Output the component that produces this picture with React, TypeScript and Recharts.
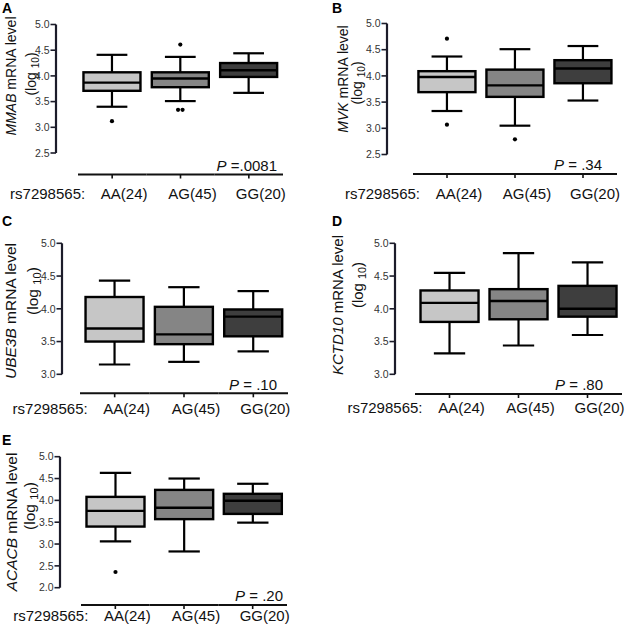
import React from "react";
import { ComposedChart, Bar, XAxis, YAxis } from "recharts";

// ---------- data ----------
const genotypes = ["AA(24)", "AG(45)", "GG(20)"];
const snpLabel = "rs7298565:";

const mmabLow = [3.4, 3.51, 3.67];
const mmabQ1 = [3.71, 3.78, 3.98];
const mmabMedian = [3.87, 3.95, 4.11];
const mmabQ3 = [4.07, 4.07, 4.25];
const mmabHigh = [4.41, 4.37, 4.44];
const mmabOutliers = [[3.12], [4.61, 3.34, 3.34], []];

const mvkLow = [3.33, 3.05, 3.53];
const mvkQ1 = [3.69, 3.6, 3.86];
const mvkMedian = [3.98, 3.82, 4.14];
const mvkQ3 = [4.09, 4.12, 4.3];
const mvkHigh = [4.37, 4.51, 4.57];
const mvkOutliers = [[4.71, 3.07], [2.79], []];

const ube3bLow = [3.15, 3.19, 3.35];
const ube3bQ1 = [3.5, 3.46, 3.58];
const ube3bMedian = [3.7, 3.61, 3.88];
const ube3bQ3 = [4.18, 4.03, 3.99];
const ube3bHigh = [4.43, 4.33, 4.27];
const ube3bOutliers = [[], [], []];

const kctd10Low = [3.32, 3.44, 3.6];
const kctd10Q1 = [3.8, 3.84, 3.88];
const kctd10Median = [4.09, 4.12, 4.0];
const kctd10Q3 = [4.28, 4.3, 4.35];
const kctd10High = [4.55, 4.85, 4.71];
const kctd10Outliers = [[], [], []];

const acacbLow = [3.06, 2.83, 3.49];
const acacbQ1 = [3.4, 3.57, 3.69];
const acacbMedian = [3.76, 3.83, 3.99];
const acacbQ3 = [4.08, 4.24, 4.15];
const acacbHigh = [4.63, 4.5, 4.38];
const acacbOutliers = [[2.36], [], []];

const ticksAB = [2.5, 3.0, 3.5, 4.0, 4.5, 5.0];
const ticksCD = [3.0, 3.5, 4.0, 4.5, 5.0];
const ticksE = [2.0, 2.5, 3.0, 3.5, 4.0, 4.5, 5.0];

const geneA = "MMAB";
const geneB = "MVK";
const geneC = "UBE3B";
const geneD = "KCTD10";
const geneE = "ACACB";

const pA = "=.0081";
const pB = "= .34";
const pC = "= .10";
const pD = "= .80";
const pE = "= .20";

// ---------- styles ----------
const FONT = "'Liberation Sans', Arial, Helvetica, sans-serif";
const INK = "#111";
const AXIS_INK = "#1c1c2a";
const boxColors = ["#c6c6c6", "#858585", "#3e3e3e"];

function buildRows(lo, q1, med, q3, hi, out) {
  return genotypes.map((g, i) => ({
    cat: g,
    lo: lo[i],
    q1: q1[i],
    med: med[i],
    q3: q3[i],
    hi: hi[i],
    out: out[i],
  }));
}

function BoxShape(props) {
  const { x, y, width, height, payload, index } = props;
  if (payload == null || width == null) return null;
  const top = Math.min(y, y + height);
  const h = Math.abs(height);
  const span = payload.hi - payload.lo;
  const py = (v) => top + ((payload.hi - v) / span) * h;
  const cx = x + width / 2;
  const cap = width * 0.27;
  const yq1 = py(payload.q1);
  const yq3 = py(payload.q3);
  const seen = {};
  return (
    <g>
      <line x1={cx} x2={cx} y1={py(payload.hi)} y2={yq3} stroke="#000" strokeWidth={2.2} />
      <line x1={cx} x2={cx} y1={yq1} y2={py(payload.lo)} stroke="#000" strokeWidth={2.2} />
      <line x1={cx - cap} x2={cx + cap} y1={py(payload.hi)} y2={py(payload.hi)} stroke="#000" strokeWidth={2.2} />
      <line x1={cx - cap} x2={cx + cap} y1={py(payload.lo)} y2={py(payload.lo)} stroke="#000" strokeWidth={2.2} />
      <rect x={x} y={yq3} width={width} height={yq1 - yq3} fill={boxColors[index % 3]} stroke="#000" strokeWidth={2.4} />
      <line x1={x} x2={x + width} y1={py(payload.med)} y2={py(payload.med)} stroke="#000" strokeWidth={2.4} />
      {payload.out.map((v, k) => {
        const key = String(v);
        const n = seen[key] || 0;
        seen[key] = n + 1;
        const dup = payload.out.filter((w) => w === v).length;
        const dx = dup > 1 ? (n - (dup - 1) / 2) * 4.5 : 0;
        return <circle key={k} cx={cx + dx} cy={py(v)} r={2.1} fill="#000" />;
      })}
    </g>
  );
}

function makeXTick(cfg) {
  return function XTick(props) {
    const { x, y, payload, index } = props;
    const half = payload && payload.offset ? payload.offset : 34;
    const ly = y + cfg.lineGap;
    return (
      <g>
        <line x1={x - half} x2={x + half} y1={ly} y2={ly} stroke={INK} strokeWidth={2} />
        <line x1={x} x2={x} y1={ly} y2={ly + 4} stroke={INK} strokeWidth={1.6} />
        <text x={x + 12} y={ly + cfg.labelGap} textAnchor="middle" fontSize={15} fontFamily={FONT} fill="#111">
          {payload.value}
        </text>
        {index === 0 && (
          <text x={x - 27} y={ly + cfg.labelGap} textAnchor="end" fontSize={15} fontFamily={FONT} fill="#111">
            {snpLabel}
          </text>
        )}
      </g>
    );
  };
}

function Panel({ cfg, rows, ticks, gene, pText }) {
  const yLabel = () => (
    <g>
      <text x={cfg.letter[0]} y={cfg.letter[1]} fontSize={14} fontWeight="bold" fontFamily={FONT} fill="#000">
        {cfg.name}
      </text>
      <text
        x={cfg.yl1[0]}
        y={cfg.yl1[1]}
        transform={`rotate(-90, ${cfg.yl1[0]}, ${cfg.yl1[1]})`}
        textAnchor="middle"
        fontSize={cfg.yFont}
        fontFamily={FONT}
        fill="#111"
      >
        <tspan fontStyle="italic">{gene}</tspan>
        <tspan> mRNA level</tspan>
      </text>
      <text
        x={cfg.yl2[0]}
        y={cfg.yl2[1]}
        transform={`rotate(-90, ${cfg.yl2[0]}, ${cfg.yl2[1]})`}
        textAnchor="middle"
        fontSize={cfg.yFont}
        fontFamily={FONT}
        fill="#111"
      >
        <tspan>(log </tspan>
        <tspan fontSize={cfg.yFont * 0.72} dy={3}>10</tspan>
        <tspan dy={-3}>)</tspan>
      </text>
    </g>
  );
  const pLabel = () => (
    <text x={cfg.p[0]} y={cfg.p[1]} textAnchor="end" fontSize={15} fontFamily={FONT} fill="#111">
      <tspan fontStyle="italic">P</tspan>
      <tspan> {pText}</tspan>
    </text>
  );
  return (
    <div style={{ position: "absolute", left: cfg.left, top: cfg.top }}>
      <ComposedChart
        width={cfg.width}
        height={cfg.height}
        data={rows}
        margin={{ top: cfg.mTop, right: cfg.mRight, left: 0, bottom: 0 }}
        barCategoryGap="8%"
      >
        <XAxis
          dataKey="cat"
          type="category"
          height={cfg.xH}
          padding={{ left: cfg.padL, right: 0 }}
          axisLine={false}
          tickLine={false}
          tickSize={0}
          tickMargin={0}
          interval={0}
          tick={makeXTick(cfg)}
          label={{ content: pLabel }}
        />
        <YAxis
          type="number"
          domain={[ticks[0], ticks[ticks.length - 1]]}
          ticks={ticks}
          interval={0}
          width={cfg.yW}
          axisLine={{ stroke: AXIS_INK, strokeWidth: 2.2 }}
          tickLine={{ stroke: AXIS_INK, strokeWidth: 1.6 }}
          tickSize={5.5}
          tickMargin={1}
          tickFormatter={(v) => Number(v).toFixed(1)}
          tick={{ fontSize: 10.5, fill: "#333", fontFamily: FONT }}
          label={{ content: yLabel }}
        />
        <Bar dataKey={(d) => [d.lo, d.hi]} isAnimationActive={false} shape={(p) => <BoxShape {...p} />} />
      </ComposedChart>
    </div>
  );
}

const cfgA = {
  name: "A", left: 0, top: 0, width: 310, height: 210, mTop: 24.5, mRight: 27, xH: 57, yW: 56, padL: 22,
  lineGap: 21.5, labelGap: 24, letter: [2, 13], yl1: [16, 76], yl2: [36, 74], yFont: 14, p: [277, 170.5],
};
const cfgB = {
  name: "B", left: 310, top: 0, width: 315, height: 210, mTop: 23.5, mRight: 8, xH: 55.5, yW: 77, padL: 26,
  lineGap: 19.5, labelGap: 24.5, letter: [22, 13], yl1: [38, 79], yl2: [52, 83], yFont: 14, p: [292, 170],
};
const cfgC = {
  name: "C", left: 0, top: 210, width: 310, height: 210, mTop: 33.3, mRight: 22, xH: 45.7, yW: 62, padL: 18,
  lineGap: 19, labelGap: 20.5, letter: [2, 16], yl1: [16, 101], yl2: [38, 81], yFont: 15.5, p: [277, 180],
};
const cfgD = {
  name: "D", left: 310, top: 210, width: 315, height: 210, mTop: 33.3, mRight: 3, xH: 45.7, yW: 85, padL: 20,
  lineGap: 19.7, labelGap: 19, letter: [22, 16], yl1: [33, 95], yl2: [53, 75], yFont: 15, p: [293, 180],
};
const cfgE = {
  name: "E", left: 0, top: 420, width: 310, height: 210, mTop: 36.7, mRight: 23, xH: 42.3, yW: 60, padL: 21,
  lineGap: 17.3, labelGap: 15.5, letter: [2, 25], yl1: [17, 102], yl2: [35, 86], yFont: 15.5, p: [283, 181],
};

export default function App() {
  return (
    <div style={{ position: "absolute", left: 0, top: 0, width: 625, height: 630, background: "#fff" }}>
      <Panel cfg={cfgA} gene={geneA} pText={pA} ticks={ticksAB}
        rows={buildRows(mmabLow, mmabQ1, mmabMedian, mmabQ3, mmabHigh, mmabOutliers)} />
      <Panel cfg={cfgB} gene={geneB} pText={pB} ticks={ticksAB}
        rows={buildRows(mvkLow, mvkQ1, mvkMedian, mvkQ3, mvkHigh, mvkOutliers)} />
      <Panel cfg={cfgC} gene={geneC} pText={pC} ticks={ticksCD}
        rows={buildRows(ube3bLow, ube3bQ1, ube3bMedian, ube3bQ3, ube3bHigh, ube3bOutliers)} />
      <Panel cfg={cfgD} gene={geneD} pText={pD} ticks={ticksCD}
        rows={buildRows(kctd10Low, kctd10Q1, kctd10Median, kctd10Q3, kctd10High, kctd10Outliers)} />
      <Panel cfg={cfgE} gene={geneE} pText={pE} ticks={ticksE}
        rows={buildRows(acacbLow, acacbQ1, acacbMedian, acacbQ3, acacbHigh, acacbOutliers)} />
    </div>
  );
}
